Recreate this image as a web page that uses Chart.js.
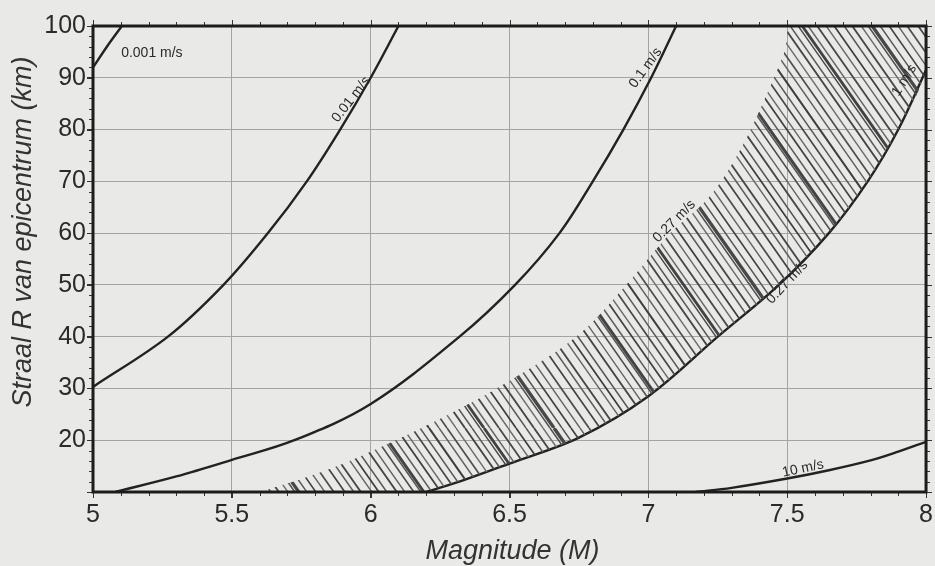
<!DOCTYPE html>
<html>
<head>
<meta charset="utf-8">
<script src="https://cdn.jsdelivr.net/npm/chart.js@4.4.1/dist/chart.umd.min.js"></script>
<style>
  html, body { margin: 0; padding: 0; background: #e9e9e7; }
  #wrap { width: 935px; height: 566px; }
</style>
</head>
<body>
<div id="wrap"><canvas id="c" width="935" height="566"></canvas></div>
<script>
// Axis ticks
const xTicks = [5, 5.5, 6, 6.5, 7, 7.5, 8];
const yTicks = [20, 30, 40, 50, 60, 70, 80, 90, 100];

// Peak ground velocity contours: [magnitude M, radius R in km]
const pgv0001 = [[5.0, 92.0], [5.05, 96.0], [5.104, 100]];
const pgv001 = [[5.0, 30.3], [5.27, 40], [5.47, 50], [5.63, 60], [5.77, 70], [5.89, 80], [6.0, 90], [6.1, 100]];
const pgv01 = [[5.08, 10], [5.3, 13], [5.5, 16.2], [5.725, 20], [6.0, 27], [6.32, 40], [6.52, 50], [6.68, 60], [6.8, 70], [6.91, 80], [7.01, 90], [7.1, 100]];
const pgv027 = [[5.6, 10], [5.75, 12.5], [5.88, 15], [6.09, 20], [6.3, 25.5], [6.47, 30.5], [6.74, 40], [6.92, 50], [7.08, 60], [7.22, 67], [7.33, 76], [7.42, 86], [7.49, 95], [7.52, 100]];
const pgv1 = [[6.2, 10], [6.33, 12.2], [6.5, 15.5], [6.75, 20.5], [7.0, 28.5], [7.25, 40], [7.47, 50], [7.65, 60], [7.79, 70], [7.9, 80], [8.0, 91.5]];
const pgv10 = [[7.17, 10], [7.3, 10.8], [7.5, 12.6], [7.65, 14.2], [7.8, 16.1], [7.9, 17.8], [8.0, 19.7]];

// Contour labels, anchored in data units
const curveLabels = [
  { text: '0.001 m/s', m: 5.212, r: 94.8, angle: 0 },
  { text: '0.01 m/s', m: 5.93, r: 85.8, angle: -52 },
  { text: '0.1 m/s', m: 6.99, r: 91.9, angle: -54 },
  { text: '0.27 m/s', m: 7.093, r: 62.3, angle: -45 },
  { text: '0.27 m/s', m: 7.5, r: 50.5, angle: -47 },
  { text: '1 m/s', m: 7.922, r: 89.5, angle: -58 },
  { text: '10 m/s', m: 7.557, r: 14.5, angle: -12 }
];

const toXY = arr => arr.map(([x, y]) => ({ x, y }));

// Hatched band: left edge of 0.27 m/s, across the top, back down the 1 m/s curve
const bandOutline = pgv027.concat([[8.0, 100]], pgv1.slice().reverse());

// Hatch stripes: [horizontal offset in tile, line width, colour]
const stripeStyle = [
  [0, 1.7, '#444'], [9, 1.5, '#5e5e5e'], [16, 1.9, '#484848'], [27, 1.4, '#666'], [34, 1.7, '#3e3e3e'],
  [42, 1.5, '#565656'], [52, 1.9, '#464646'], [60, 1.4, '#626262'], [69, 1.6, '#4e4e4e'], [76, 1.5, '#555'],
  [79, 3.0, '#444'], [87, 1.5, '#5e5e5e'], [96, 1.8, '#424242'], [103, 1.4, '#6a6a6a'], [112, 1.7, '#484848'],
  [120, 1.5, '#585858'], [129, 2.1, '#3e3e3e'], [139, 1.5, '#626262'], [147, 1.7, '#4e4e4e'], [156, 1.4, '#6e6e6e'],
  [165, 1.9, '#464646'], [172, 1.5, '#5a5a5a'], [180, 1.4, '#4a4a4a'], [184, 2.8, '#424242'], [190, 1.5, '#666'],
  [199, 1.8, '#484848'], [208, 1.4, '#686868'], [216, 1.7, '#3e3e3e'], [226, 1.5, '#585858'], [234, 1.9, '#484848'],
  [243, 1.4, '#6c6c6c'], [250, 1.5, '#505050'], [254, 3.4, '#484848'], [262, 1.5, '#565656'], [271, 1.7, '#424242'],
  [280, 1.4, '#646464'], [289, 1.8, '#4e4e4e']
];

const canvas = document.getElementById('c');
const ctx0 = canvas.getContext('2d');

// Seamless tile of lines running down-right at about 55 degrees
function makeHatch() {
  const W = 300, H = 428;
  const tile = document.createElement('canvas');
  tile.width = W; tile.height = H;
  const g = tile.getContext('2d');
  g.lineCap = 'butt';
  for (const [x0, w, col] of stripeStyle) {
    g.strokeStyle = col;
    g.lineWidth = w;
    g.beginPath();
    for (let k = -1; k <= 1; k++) {
      g.moveTo(x0 + k * W, 0);
      g.lineTo(x0 + k * W + W, H);
    }
    g.stroke();
  }
  return ctx0.createPattern(tile, 'repeat');
}

const FONT = "'Liberation Sans', Arial, Helvetica, sans-serif";
const INK = '#2a2a2a';

const decor = {
  id: 'decor',
  beforeDraw(chart) {
    const c = chart.ctx;
    c.save();
    c.fillStyle = '#e9e9e7';
    c.fillRect(0, 0, chart.width, chart.height);
    c.restore();
  },
  afterDatasetsDraw(chart) {
    const { ctx: c, chartArea: a, scales: { x, y } } = chart;
    c.save();
    // minor ticks on all four sides
    c.strokeStyle = '#333';
    c.lineWidth = 1;
    c.beginPath();
    for (let i = 0; i <= 30; i++) {
      const px = Math.round(x.getPixelForValue(5 + i * 0.1)) + 0.5;
      const len = i % 5 === 0 ? 6 : 4;
      c.moveTo(px, a.bottom); c.lineTo(px, a.bottom + len);
      c.moveTo(px, a.top); c.lineTo(px, a.top - len);
    }
    for (let v = 10; v <= 100; v += 2) {
      const py = Math.round(y.getPixelForValue(v)) + 0.5;
      const len = v % 10 === 0 ? 6 : 4;
      c.moveTo(a.left, py); c.lineTo(a.left - len, py);
      c.moveTo(a.right, py); c.lineTo(a.right + len, py);
    }
    c.stroke();
    // frame
    c.lineWidth = 3;
    c.strokeStyle = '#1c1c1c';
    c.strokeRect(a.left, a.top, a.right - a.left, a.bottom - a.top);
    // contour labels
    c.fillStyle = INK;
    c.font = '14px ' + FONT;
    c.textAlign = 'center';
    c.textBaseline = 'middle';
    for (const l of curveLabels) {
      c.save();
      c.translate(x.getPixelForValue(l.m), y.getPixelForValue(l.r));
      c.rotate(l.angle * Math.PI / 180);
      c.fillText(l.text, 0, 0);
      c.restore();
    }
    // axis titles
    c.font = 'italic 27px ' + FONT;
    c.fillStyle = '#333';
    c.fillText('Magnitude (M)', (a.left + a.right) / 2 + 3, a.bottom + 59);
    c.save();
    c.translate(23, a.top + 206);
    c.rotate(-Math.PI / 2);
    c.fillText('Straal R van epicentrum (km)', 0, 0);
    c.restore();
    c.restore();
  }
};

const curveStyle = {
  showLine: true,
  pointRadius: 0,
  borderColor: '#222',
  borderWidth: 2.4,
  tension: 0.35,
  fill: false
};

new Chart(canvas, {
  type: 'scatter',
  data: {
    datasets: [
      {
        label: '0.27 - 1 m/s',
        data: toXY(bandOutline),
        showLine: true,
        pointRadius: 0,
        borderWidth: 0,
        borderColor: 'rgba(0,0,0,0)',
        backgroundColor: makeHatch(),
        tension: 0.35,
        fill: 'shape'
      },
      Object.assign({ label: '0.001 m/s', data: toXY(pgv0001) }, curveStyle),
      Object.assign({ label: '0.01 m/s', data: toXY(pgv001) }, curveStyle),
      Object.assign({ label: '0.1 m/s', data: toXY(pgv01) }, curveStyle),
      Object.assign({ label: '1 m/s', data: toXY(pgv1) }, curveStyle),
      Object.assign({ label: '10 m/s', data: toXY(pgv10) }, curveStyle)
    ]
  },
  options: {
    responsive: false,
    animation: false,
    devicePixelRatio: 1,
    layout: { padding: { top: 26, right: 8, left: 0, bottom: 0 } },
    plugins: { legend: { display: false }, tooltip: { enabled: false } },
    scales: {
      x: {
        type: 'linear',
        min: 5, max: 8,
        afterBuildTicks: s => { s.ticks = xTicks.map(v => ({ value: v })); },
        afterFit: s => { s.height = 74; },
        grid: { color: '#a4a4a4', lineWidth: 1, tickLength: 6, tickColor: '#333' },
        border: { display: false },
        ticks: {
          font: { family: FONT, size: 25 }, color: INK, padding: 2, maxRotation: 0,
          callback: v => String(v)
        }
      },
      y: {
        type: 'linear',
        min: 10, max: 100,
        afterBuildTicks: s => { s.ticks = yTicks.map(v => ({ value: v })); },
        afterFit: s => { s.width = 93; },
        grid: { color: '#a4a4a4', lineWidth: 1, tickLength: 6, tickColor: '#333' },
        border: { display: false },
        ticks: { font: { family: FONT, size: 25 }, color: INK, padding: 1, callback: v => String(v) }
      }
    }
  },
  plugins: [decor]
});
</script>
</body>
</html>
